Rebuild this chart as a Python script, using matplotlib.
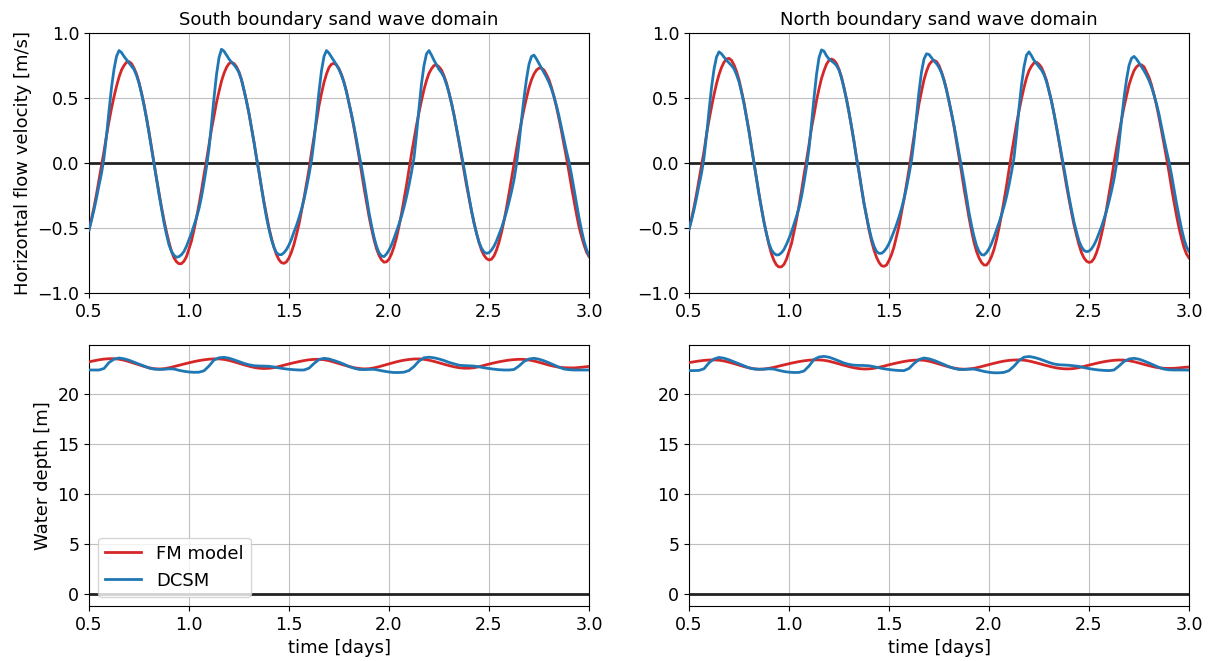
import numpy as np
import matplotlib
matplotlib.use("Agg")
import matplotlib.pyplot as plt

# time axes [days]
time_vel = np.linspace(0.5, 3.0, 201)    # velocity, every 0.0125 day
time_depth = np.linspace(0.5, 3.0, 101)  # water depth, every 0.025 day

# horizontal flow velocity [m/s] - south boundary (one row = 0.1 day)
vel_south_fm = [
    -0.515, -0.43, -0.34, -0.24, -0.13, -0.02, 0.09, 0.21,
    0.32, 0.42, 0.51, 0.59, 0.66, 0.715, 0.75, 0.775,
    0.78, 0.765, 0.73, 0.685, 0.62, 0.54, 0.45, 0.345,
    0.24, 0.12, 0.00, -0.12, -0.23, -0.34, -0.44, -0.53,
    -0.61, -0.68, -0.73, -0.76, -0.775, -0.774, -0.755, -0.72,
    -0.66, -0.60, -0.515, -0.42, -0.32, -0.21, -0.09, 0.02,
    0.14, 0.26, 0.36, 0.465, 0.55, 0.63, 0.69, 0.735,
    0.765, 0.774, 0.765, 0.74, 0.70, 0.64, 0.56, 0.475,
    0.38, 0.27, 0.16, 0.04, -0.07, -0.19, -0.30, -0.40,
    -0.50, -0.58, -0.65, -0.705, -0.745, -0.767, -0.772, -0.76,
    -0.73, -0.685, -0.625, -0.55, -0.47, -0.37, -0.27, -0.16,
    -0.05, 0.08, 0.20, 0.325, 0.44, 0.535, 0.62, 0.685,
    0.735, 0.76, 0.767, 0.754, 0.725, 0.68, 0.62, 0.55,
    0.46, 0.37, 0.27, 0.16, 0.05, -0.07, -0.19, -0.30,
    -0.41, -0.505, -0.59, -0.66, -0.71, -0.745, -0.763, -0.76,
    -0.74, -0.70, -0.645, -0.575, -0.487, -0.39, -0.28, -0.17,
    -0.05, 0.07, 0.18, 0.29, 0.39, 0.48, 0.565, 0.635,
    0.69, 0.725, 0.75, 0.754, 0.74, 0.715, 0.67, 0.615,
    0.54, 0.46, 0.37, 0.265, 0.16, 0.05, -0.06, -0.17,
    -0.27, -0.37, -0.46, -0.54, -0.61, -0.67, -0.71, -0.735,
    -0.746, -0.74, -0.715, -0.67, -0.61, -0.535, -0.445, -0.345,
    -0.235, -0.12, 0.00, 0.11, 0.22, 0.32, 0.415, 0.50,
    0.58, 0.64, 0.685, 0.715, 0.73, 0.73, 0.715, 0.68,
    0.64, 0.58, 0.51, 0.43, 0.34, 0.245, 0.14, 0.04,
    -0.07, -0.185, -0.29, -0.395, -0.49, -0.565, -0.63, -0.685,
    -0.72,
]
vel_south_dcsm = [
    -0.515, -0.44, -0.36, -0.27, -0.17, -0.08, 0.04, 0.21,
    0.40, 0.58, 0.72, 0.82, 0.865, 0.85, 0.82, 0.795,
    0.77, 0.745, 0.72, 0.675, 0.615, 0.535, 0.445, 0.345,
    0.23, 0.12, 0.00, -0.12, -0.24, -0.35, -0.46, -0.55,
    -0.63, -0.68, -0.71, -0.725, -0.72, -0.705, -0.68, -0.64,
    -0.59, -0.54, -0.48, -0.42, -0.35, -0.26, -0.15, -0.03,
    0.11, 0.30, 0.50, 0.68, 0.81, 0.875, 0.86, 0.83,
    0.80, 0.775, 0.755, 0.73, 0.695, 0.64, 0.56, 0.475,
    0.38, 0.27, 0.16, 0.04, -0.07, -0.19, -0.31, -0.42,
    -0.51, -0.59, -0.65, -0.69, -0.705, -0.705, -0.69, -0.665,
    -0.63, -0.585, -0.53, -0.48, -0.42, -0.355, -0.28, -0.19,
    -0.09, 0.02, 0.17, 0.36, 0.55, 0.71, 0.82, 0.865,
    0.845, 0.815, 0.785, 0.755, 0.72, 0.675, 0.62, 0.545,
    0.46, 0.375, 0.28, 0.18, 0.07, -0.03, -0.14, -0.26,
    -0.38, -0.48, -0.57, -0.64, -0.69, -0.715, -0.72, -0.70,
    -0.67, -0.63, -0.58, -0.525, -0.47, -0.41, -0.34, -0.26,
    -0.17, -0.07, 0.04, 0.22, 0.42, 0.61, 0.75, 0.84,
    0.865, 0.83, 0.79, 0.755, 0.72, 0.695, 0.66, 0.605,
    0.54, 0.46, 0.37, 0.27, 0.17, 0.065, -0.04, -0.15,
    -0.26, -0.365, -0.46, -0.54, -0.61, -0.655, -0.685, -0.695,
    -0.69, -0.67, -0.64, -0.60, -0.55, -0.50, -0.44, -0.375,
    -0.30, -0.22, -0.13, -0.01, 0.15, 0.33, 0.50, 0.645,
    0.76, 0.82, 0.83, 0.80, 0.765, 0.73, 0.695, 0.66,
    0.62, 0.57, 0.51, 0.44, 0.36, 0.27, 0.18, 0.09,
    0.01, -0.09, -0.20, -0.31, -0.42, -0.515, -0.60, -0.665,
    -0.713,
]

# horizontal flow velocity [m/s] - north boundary
vel_north_fm = [
    -0.51, -0.43, -0.34, -0.24, -0.13, -0.02, 0.09, 0.22,
    0.33, 0.43, 0.525, 0.61, 0.68, 0.735, 0.775, 0.80,
    0.805, 0.79, 0.755, 0.705, 0.64, 0.555, 0.465, 0.355,
    0.25, 0.12, 0.00, -0.12, -0.24, -0.35, -0.455, -0.545,
    -0.63, -0.70, -0.75, -0.785, -0.80, -0.798, -0.78, -0.74,
    -0.68, -0.62, -0.53, -0.435, -0.33, -0.215, -0.09, 0.02,
    0.14, 0.27, 0.37, 0.48, 0.57, 0.65, 0.71, 0.76,
    0.79, 0.80, 0.79, 0.765, 0.72, 0.66, 0.58, 0.49,
    0.39, 0.28, 0.165, 0.04, -0.07, -0.195, -0.31, -0.41,
    -0.515, -0.60, -0.67, -0.725, -0.765, -0.79, -0.795, -0.785,
    -0.75, -0.705, -0.645, -0.565, -0.485, -0.38, -0.28, -0.165,
    -0.05, 0.08, 0.205, 0.335, 0.455, 0.55, 0.64, 0.705,
    0.755, 0.78, 0.79, 0.78, 0.75, 0.70, 0.64, 0.565,
    0.475, 0.38, 0.28, 0.165, 0.05, -0.07, -0.195, -0.31,
    -0.42, -0.52, -0.61, -0.68, -0.73, -0.765, -0.785, -0.785,
    -0.76, -0.72, -0.665, -0.59, -0.50, -0.40, -0.29, -0.175,
    -0.05, 0.07, 0.185, 0.30, 0.40, 0.495, 0.58, 0.655,
    0.71, 0.745, 0.77, 0.775, 0.76, 0.735, 0.69, 0.635,
    0.555, 0.475, 0.38, 0.275, 0.165, 0.05, -0.06, -0.175,
    -0.28, -0.38, -0.475, -0.555, -0.63, -0.69, -0.73, -0.755,
    -0.765, -0.76, -0.735, -0.69, -0.63, -0.55, -0.46, -0.355,
    -0.24, -0.125, 0.00, 0.115, 0.225, 0.33, 0.43, 0.515,
    0.60, 0.66, 0.71, 0.74, 0.755, 0.755, 0.74, 0.70,
    0.66, 0.60, 0.525, 0.445, 0.35, 0.25, 0.145, 0.04,
    -0.07, -0.19, -0.30, -0.405, -0.50, -0.58, -0.65, -0.70,
    -0.73,
]
vel_north_dcsm = [
    -0.51, -0.44, -0.36, -0.27, -0.17, -0.08, 0.04, 0.21,
    0.40, 0.58, 0.72, 0.815, 0.855, 0.84, 0.815, 0.79,
    0.77, 0.75, 0.725, 0.68, 0.625, 0.545, 0.455, 0.35,
    0.24, 0.12, 0.00, -0.12, -0.24, -0.35, -0.455, -0.545,
    -0.62, -0.67, -0.695, -0.708, -0.705, -0.69, -0.665, -0.625,
    -0.58, -0.53, -0.47, -0.41, -0.345, -0.26, -0.15, -0.03,
    0.11, 0.30, 0.50, 0.68, 0.81, 0.87, 0.86, 0.825,
    0.80, 0.785, 0.77, 0.75, 0.715, 0.655, 0.575, 0.49,
    0.39, 0.28, 0.165, 0.04, -0.07, -0.19, -0.31, -0.41,
    -0.50, -0.58, -0.64, -0.68, -0.695, -0.695, -0.68, -0.655,
    -0.62, -0.575, -0.525, -0.475, -0.415, -0.35, -0.275, -0.19,
    -0.09, 0.02, 0.17, 0.36, 0.55, 0.70, 0.80, 0.84,
    0.835, 0.81, 0.785, 0.765, 0.735, 0.695, 0.635, 0.56,
    0.475, 0.385, 0.29, 0.185, 0.075, -0.03, -0.14, -0.26,
    -0.38, -0.48, -0.565, -0.635, -0.68, -0.705, -0.708, -0.69,
    -0.66, -0.62, -0.57, -0.515, -0.46, -0.40, -0.335, -0.26,
    -0.17, -0.07, 0.04, 0.22, 0.42, 0.60, 0.74, 0.83,
    0.855, 0.825, 0.79, 0.765, 0.74, 0.715, 0.68, 0.625,
    0.555, 0.475, 0.38, 0.28, 0.175, 0.065, -0.04, -0.15,
    -0.26, -0.36, -0.455, -0.53, -0.60, -0.645, -0.673, -0.682,
    -0.678, -0.66, -0.63, -0.59, -0.54, -0.49, -0.43, -0.37,
    -0.295, -0.215, -0.125, -0.01, 0.15, 0.33, 0.50, 0.64,
    0.75, 0.805, 0.82, 0.80, 0.77, 0.74, 0.71, 0.675,
    0.635, 0.585, 0.525, 0.455, 0.375, 0.28, 0.185, 0.095,
    0.01, -0.09, -0.20, -0.31, -0.41, -0.505, -0.585, -0.645,
    -0.68,
]

# water depth [m] - south boundary (one row = 0.25 day)
depth_south_fm = [
    23.22, 23.32, 23.42, 23.49, 23.53, 23.53, 23.48, 23.38, 23.24, 23.08,
    22.92, 22.76, 22.62, 22.53, 22.50, 22.53, 22.62, 22.74, 22.87, 23.00,
    23.12, 23.24, 23.34, 23.42, 23.48, 23.51, 23.51, 23.46, 23.36, 23.22,
    23.07, 22.92, 22.78, 22.66, 22.58, 22.55, 22.57, 22.64, 22.75, 22.88,
    23.01, 23.13, 23.24, 23.34, 23.42, 23.46, 23.47, 23.43, 23.33, 23.19,
    23.04, 22.89, 22.75, 22.63, 22.55, 22.51, 22.53, 22.61, 22.73, 22.87,
    23.01, 23.15, 23.28, 23.38, 23.45, 23.50, 23.51, 23.47, 23.38, 23.26,
    23.12, 22.98, 22.84, 22.72, 22.63, 22.58, 22.58, 22.63, 22.73, 22.86,
    22.99, 23.11, 23.22, 23.31, 23.39, 23.44, 23.47, 23.46, 23.40, 23.30,
    23.17, 23.03, 22.89, 22.77, 22.68, 22.63, 22.61, 22.61, 22.65, 22.70,
    22.76,
]
depth_south_dcsm = [
    22.40, 22.40, 22.40, 22.55, 23.15, 23.48, 23.60, 23.52, 23.38, 23.18,
    22.99, 22.80, 22.60, 22.49, 22.46, 22.47, 22.52, 22.50, 22.37, 22.27,
    22.20, 22.17, 22.18, 22.32, 22.80, 23.40, 23.62, 23.67, 23.58, 23.42,
    23.24, 23.06, 22.92, 22.83, 22.80, 22.79, 22.77, 22.70, 22.61, 22.53,
    22.47, 22.43, 22.40, 22.40, 22.58, 23.05, 23.45, 23.57, 23.50, 23.35,
    23.18, 22.98, 22.75, 22.58, 22.46, 22.44, 22.46, 22.47, 22.38, 22.28,
    22.20, 22.15, 22.15, 22.18, 22.35, 22.75, 23.30, 23.62, 23.68, 23.62,
    23.50, 23.35, 23.16, 23.02, 22.88, 22.84, 22.82, 22.79, 22.72, 22.62,
    22.55, 22.48, 22.43, 22.40, 22.40, 22.45, 22.80, 23.25, 23.50, 23.57,
    23.48, 23.32, 23.12, 22.90, 22.68, 22.50, 22.43, 22.40, 22.40, 22.40,
    22.40,
]

# water depth [m] - north boundary
depth_north_fm = [
    23.14, 23.22, 23.30, 23.36, 23.40, 23.41, 23.38, 23.30, 23.18, 23.04,
    22.89, 22.74, 22.61, 22.52, 22.48, 22.50, 22.57, 22.67, 22.79, 22.91,
    23.03, 23.14, 23.24, 23.32, 23.38, 23.41, 23.41, 23.37, 23.28, 23.15,
    23.01, 22.87, 22.74, 22.62, 22.54, 22.50, 22.51, 22.57, 22.67, 22.79,
    22.92, 23.04, 23.15, 23.25, 23.33, 23.38, 23.40, 23.37, 23.28, 23.15,
    23.00, 22.85, 22.71, 22.59, 22.51, 22.48, 22.50, 22.57, 22.68, 22.81,
    22.94, 23.07, 23.19, 23.29, 23.36, 23.40, 23.41, 23.38, 23.30, 23.18,
    23.05, 22.91, 22.78, 22.66, 22.57, 22.52, 22.51, 22.55, 22.64, 22.76,
    22.89, 23.01, 23.13, 23.23, 23.31, 23.37, 23.40, 23.39, 23.33, 23.23,
    23.10, 22.96, 22.83, 22.71, 22.62, 22.57, 22.56, 22.57, 22.61, 22.66,
    22.70,
]
depth_north_dcsm = [
    22.34, 22.34, 22.36, 22.52, 23.12, 23.50, 23.66, 23.58, 23.42, 23.22,
    23.02, 22.82, 22.62, 22.50, 22.47, 22.48, 22.52, 22.49, 22.36, 22.25,
    22.18, 22.15, 22.16, 22.30, 22.80, 23.45, 23.70, 23.76, 23.68, 23.50,
    23.30, 23.10, 22.96, 22.88, 22.86, 22.85, 22.82, 22.73, 22.62, 22.52,
    22.45, 22.39, 22.35, 22.34, 22.55, 23.05, 23.45, 23.60, 23.52, 23.36,
    23.16, 22.95, 22.73, 22.56, 22.45, 22.45, 22.49, 22.49, 22.38, 22.26,
    22.17, 22.12, 22.12, 22.16, 22.34, 22.78, 23.35, 23.68, 23.75, 23.66,
    23.52, 23.34, 23.15, 23.00, 22.92, 22.90, 22.87, 22.82, 22.76, 22.64,
    22.54, 22.46, 22.40, 22.36, 22.34, 22.40, 22.80, 23.25, 23.50, 23.57,
    23.48, 23.30, 23.10, 22.88, 22.66, 22.49, 22.42, 22.40, 22.40, 22.40,
    22.39,
]

titles = ["South boundary sand wave domain", "North boundary sand wave domain"]
series_labels = ["FM model", "DCSM"]
fm_color = "#d62728"
dcsm_color = "#1f77b4"
x_ticks = [0.5, 1.0, 1.5, 2.0, 2.5, 3.0]
vel_ticks = [-1.0, -0.5, 0.0, 0.5, 1.0]
depth_ticks = [0, 5, 10, 15, 20]

plt.rcParams["font.family"] = ["DejaVu Sans"]

fig = plt.figure(figsize=(12.12, 6.61), dpi=100)
W, H = 1212.0, 661.0
lefts = [89 / W, 689 / W]
width = 500 / W
ax_tl = fig.add_axes([lefts[0], 1 - 293 / H, width, 260 / H])
ax_tr = fig.add_axes([lefts[1], 1 - 293 / H, width, 260 / H])
ax_bl = fig.add_axes([lefts[0], 1 - 606 / H, width, 261 / H])
ax_br = fig.add_axes([lefts[1], 1 - 606 / H, width, 261 / H])

LW = 2.0

vel_sets = [(ax_tl, vel_south_fm, vel_south_dcsm), (ax_tr, vel_north_fm, vel_north_dcsm)]
dep_sets = [(ax_bl, depth_south_fm, depth_south_dcsm), (ax_br, depth_north_fm, depth_north_dcsm)]

for (ax, fm, dc), title in zip(vel_sets, titles):
    ax.axhline(0, color="#222222", lw=LW, zorder=2)
    ax.plot(time_vel, fm, color=fm_color, lw=LW, label=series_labels[0], zorder=3)
    ax.plot(time_vel, dc, color=dcsm_color, lw=LW, label=series_labels[1], zorder=4)
    ax.set_xlim(0.5, 3.0)
    ax.set_ylim(-1.0, 1.0)
    ax.set_yticks(vel_ticks)
    ax.set_title(title, fontsize=13, pad=6)

for ax, fm, dc in dep_sets:
    ax.axhline(0, color="#222222", lw=LW, zorder=2)
    ax.plot(time_depth, fm, color=fm_color, lw=LW, label=series_labels[0], zorder=3)
    ax.plot(time_depth, dc, color=dcsm_color, lw=LW, label=series_labels[1], zorder=4)
    ax.set_xlim(0.5, 3.0)
    ax.set_ylim(-1.2, 24.9)
    ax.set_yticks(depth_ticks)
    ax.set_xlabel("time [days]", fontsize=13)

for ax in (ax_tl, ax_tr, ax_bl, ax_br):
    ax.set_xticks(x_ticks)
    ax.tick_params(labelsize=12.5)
    ax.grid(True, color="#b0b0b0", lw=0.8, alpha=0.8)

ax_tl.set_ylabel("Horizontal flow velocity [m/s]", fontsize=13)
ax_bl.set_ylabel("Water depth [m]", fontsize=13)
ax_bl.legend(loc="lower left", fontsize=13)

fig.savefig("out.png", dpi=100)
